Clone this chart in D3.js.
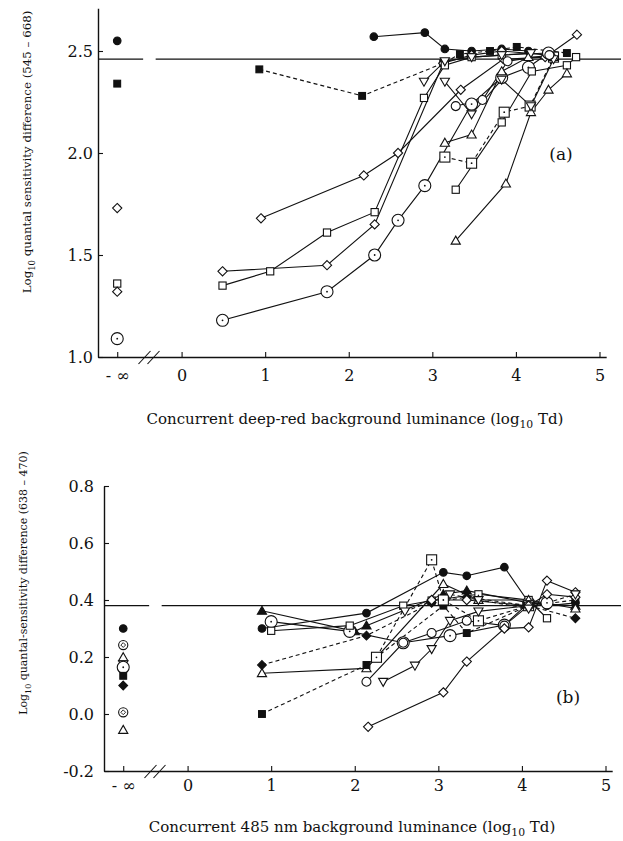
<!DOCTYPE html>
<html><head><meta charset="utf-8">
<script src="https://cdn.jsdelivr.net/npm/d3@7"></script>
<style>
body{margin:0;background:#fff}
svg{display:block}
text{font-family:"DejaVu Serif",serif;fill:#111}
</style>
</head><body>
<svg id="chart" width="623" height="841"></svg>
<script>
// ---------- data: log10 Td of the background vs. sensitivity difference ----------
const xTickValues = [0, 1, 2, 3, 4, 5];
const negInfinityAt = -0.77;          // where the "- ∞" (no background) column sits
const aYTickValues = [1.0, 1.5, 2.0, 2.5];
const bYTickValues = [-0.2, 0.0, 0.2, 0.4, 0.6, 0.8];
const aPlateau = 2.46;
const bPlateau = 0.38;

// (a) deep-red backgrounds, 545 vs 668 nm
const aFilledCircles = [[2.30,2.57],[2.91,2.59],[3.15,2.51],[3.47,2.50],[3.83,2.51],[4.15,2.50]];
const aFilledSquares = [[0.93,2.41],[2.16,2.28],[3.13,2.44],[3.33,2.485],[3.69,2.50],[4.01,2.52],[4.61,2.49]];
const aDiamondsUpper = [[0.95,1.68],[2.18,1.89],[2.59,2.00],[3.34,2.31],[3.85,2.46],[4.35,2.47],[4.73,2.58]];
const aDiamondsLower = [[0.49,1.42],[1.74,1.45],[2.31,1.65],[3.13,2.44],[3.47,2.48],[3.83,2.50],[4.39,2.48]];
const aSquaresLong   = [[0.49,1.35],[1.06,1.42],[1.74,1.61],[2.31,1.71],[2.90,2.27],[3.15,2.43],[3.47,2.47],[3.83,2.48],[4.39,2.49]];
const aDottedCircles = [[0.49,1.18],[1.74,1.32],[2.31,1.50],[2.59,1.67],[2.91,1.84],[3.47,2.24],[3.83,2.37],[4.15,2.42],[4.39,2.49]];
const aDottedSquares = [[3.15,1.98],[3.47,1.95],[3.86,2.20],[4.17,2.23],[4.45,2.47]];
const aSquaresShort  = [[3.28,1.82],[3.83,2.15],[4.19,2.40],[4.61,2.43],[4.72,2.47]];
const aTrianglesLate = [[3.28,1.57],[3.88,1.85],[4.18,2.20],[4.39,2.31],[4.61,2.39]];
const aTrianglesMid  = [[3.15,2.05],[3.47,2.09],[3.83,2.40],[4.15,2.47],[4.45,2.47]];
const aInvTriUpper   = [[2.90,2.35],[3.15,2.45],[3.47,2.47],[3.83,2.48],[4.18,2.49]];
const aInvTriLower   = [[3.15,2.35],[3.47,2.19],[3.83,2.36],[4.18,2.23],[4.45,2.46]];
const aOpenCircles   = [[3.28,2.23],[3.60,2.26],[3.90,2.45],[4.40,2.48]];
const aNoBackground  = [2.55, 2.34, 1.73, 1.36, 1.32, 1.09];

// (b) 485 nm backgrounds, 638 vs 470 nm
const bFilledCircles = [[0.89,0.30],[2.14,0.354],[3.06,0.497],[3.34,0.485],[3.79,0.515],[4.08,0.392],[4.30,0.38],[4.64,0.39]];
const bFilledTriangles = [[0.89,0.362],[2.00,0.29],[2.14,0.31],[3.06,0.42],[3.34,0.433],[4.08,0.39],[4.64,0.38]];
const bDottedCircles = [[1.00,0.324],[1.94,0.29],[2.58,0.25],[3.14,0.275],[3.79,0.312],[4.08,0.39],[4.30,0.39]];
const bOpenSquares   = [[1.00,0.292],[1.94,0.31],[2.58,0.38],[2.92,0.398],[3.48,0.42],[4.08,0.40],[4.30,0.336]];
const bFilledDiamonds = [[0.89,0.172],[2.14,0.275],[2.92,0.39],[3.34,0.41],[4.08,0.38],[4.64,0.336]];
const bOpenTriangles = [[0.89,0.143],[2.14,0.16],[3.06,0.456],[3.48,0.40],[4.08,0.40],[4.64,0.37]];
const bFilledSquares = [[0.89,0.00],[2.14,0.172],[3.06,0.38],[3.34,0.284],[4.08,0.38],[4.64,0.40]];
const bDottedSquares = [[2.26,0.199],[2.92,0.541],[3.06,0.40],[3.48,0.327],[4.08,0.38]];
const bOpenCircles   = [[2.14,0.113],[2.58,0.25],[2.92,0.284],[3.34,0.327],[3.79,0.31],[4.08,0.38]];
const bInvTriangles  = [[2.34,0.113],[2.72,0.17],[2.92,0.228],[3.14,0.327],[3.48,0.36],[4.08,0.38]];
const bDiamondsLower = [[2.16,-0.045],[3.06,0.076],[3.34,0.184],[3.79,0.30],[4.08,0.304],[4.30,0.468],[4.64,0.427]];
const bDiamondsUpper = [[2.92,0.40],[3.34,0.40],[4.08,0.38],[4.30,0.42],[4.64,0.41]];
const bInvTriDashed  = [[2.60,0.36],[3.14,0.42],[3.48,0.40],[4.08,0.37],[4.64,0.42]];
const bNoBackground  = [0.30, 0.242, 0.199, 0.175, 0.164, 0.134, 0.10, 0.006, -0.056];

// ---------- series tables ----------
const panelASeries = [
  {pts: aFilledCircles, mark: "fc"}, {pts: aFilledSquares, mark: "fs", dash: true},
  {pts: aDiamondsUpper, mark: "di"}, {pts: aDiamondsLower, mark: "di"},
  {pts: aSquaresLong, mark: "sq"}, {pts: aDottedCircles, mark: "cd"},
  {pts: aDottedSquares, mark: "sd", dash: true}, {pts: aSquaresShort, mark: "sq"},
  {pts: aTrianglesLate, mark: "tu"}, {pts: aTrianglesMid, mark: "tu"},
  {pts: aInvTriUpper, mark: "td"}, {pts: aInvTriLower, mark: "td"},
  {pts: aOpenCircles, mark: "oc"}
];
const aNoBackgroundMarks = ["fc", "fs", "di", "sq", "di", "cd"];

const panelBSeries = [
  {pts: bFilledCircles, mark: "fc"}, {pts: bFilledTriangles, mark: "ft"},
  {pts: bDottedCircles, mark: "cd"}, {pts: bOpenSquares, mark: "sq"},
  {pts: bFilledDiamonds, mark: "fd", dash: true}, {pts: bOpenTriangles, mark: "tu"},
  {pts: bFilledSquares, mark: "fs", dash: true}, {pts: bDottedSquares, mark: "sd", dash: true},
  {pts: bOpenCircles, mark: "oc"}, {pts: bInvTriangles, mark: "td"},
  {pts: bDiamondsLower, mark: "di"}, {pts: bDiamondsUpper, mark: "di"},
  {pts: bInvTriDashed, mark: "td", dash: true}
];
const bNoBackgroundMarks = ["fc", "cdi", "tu", "td", "cd", "fs", "fd", "cdi", "tu"];

// ---------- drawing ----------
const svg = d3.select("#chart");
svg.append("rect").attr("width", 623).attr("height", 841).attr("fill", "#fff");

function drawMarker(g, kind, cx, cy) {
  const s = g.append("g").attr("transform", `translate(${cx},${cy})`)
    .attr("stroke", "#111").attr("stroke-width", 1.1).attr("fill", "#fff");
  switch (kind) {
    case "fc": s.append("circle").attr("r", 3.8).attr("fill", "#111"); break;
    case "oc": s.append("circle").attr("r", 4.5); break;
    case "cd": s.append("circle").attr("r", 6);
               s.append("circle").attr("r", 0.9).attr("fill", "#111").attr("stroke", "none"); break;
    case "cdi": s.append("circle").attr("r", 4.6);
               s.append("path").attr("d", "M0,-2.4L2.4,0L0,2.4L-2.4,0Z").attr("stroke-width", 0.9); break;
    case "sq": s.append("rect").attr("x", -3.6).attr("y", -3.6).attr("width", 7.2).attr("height", 7.2); break;
    case "fs": s.append("rect").attr("x", -3.4).attr("y", -3.4).attr("width", 6.8).attr("height", 6.8).attr("fill", "#111"); break;
    case "sd": s.append("rect").attr("x", -5).attr("y", -5).attr("width", 10).attr("height", 10);
               s.append("circle").attr("r", 0.9).attr("fill", "#111").attr("stroke", "none"); break;
    case "di": s.append("path").attr("d", "M0,-4.6L4.6,0L0,4.6L-4.6,0Z"); break;
    case "fd": s.append("path").attr("d", "M0,-4.4L4.4,0L0,4.4L-4.4,0Z").attr("fill", "#111"); break;
    case "tu": s.append("path").attr("d", "M0,-4.6L4.6,3.4L-4.6,3.4Z"); break;
    case "ft": s.append("path").attr("d", "M0,-4.6L4.6,3.4L-4.6,3.4Z").attr("fill", "#111"); break;
    case "td": s.append("path").attr("d", "M0,4.6L4.6,-3.4L-4.6,-3.4Z"); break;
  }
}

function drawPanel(cfg) {
  const {x, y, series, noBg, noBgMarks, plateau, yTicks, yPad, xPad} = cfg;
  const g = svg.append("g");
  const x0 = x.range()[0], y0 = y.range()[0];

  // axes, ticks pointing inward
  const ya = g.append("g").attr("transform", `translate(${x0},0)`)
    .call(d3.axisLeft(y).tickValues(yTicks).tickSizeInner(-5).tickSizeOuter(0)
      .tickPadding(yPad).tickFormat(d => d.toFixed(1)));
  const xa = g.append("g").attr("transform", `translate(0,${y0})`)
    .call(d3.axisBottom(x).tickValues([negInfinityAt, ...xTickValues]).tickSizeInner(-5)
      .tickSizeOuter(0).tickPadding(xPad).tickFormat(d => d === negInfinityAt ? "- \u221e" : d));
  [ya, xa].forEach(a => {
    a.select(".domain").attr("stroke", "#111").attr("stroke-width", 1.4);
    a.selectAll(".tick line").attr("stroke", "#111").attr("stroke-width", 1.1);
    a.selectAll(".tick text").attr("font-family", "DejaVu Serif").attr("font-size", 16).attr("fill", "#111");
  });

  // axis break marks between -∞ and 0
  const bx = x(-0.39);
  [-4.5, 4.5].forEach(o => g.append("line")
    .attr("x1", bx + o - 6).attr("y1", y0 + 7).attr("x2", bx + o + 6).attr("y2", y0 - 6)
    .attr("stroke", "#111").attr("stroke-width", 1.1));

  // plateau reference line, broken at the axis break
  const py = y(plateau);
  g.append("line").attr("x1", x0).attr("x2", x(-0.46)).attr("y1", py).attr("y2", py)
    .attr("stroke", "#111").attr("stroke-width", 1.2);
  g.append("line").attr("x1", x(-0.31)).attr("x2", 621).attr("y1", py).attr("y2", py)
    .attr("stroke", "#111").attr("stroke-width", 1.2);

  // connecting lines
  const line = d3.line().x(d => x(d[0])).y(d => y(d[1]));
  series.forEach(s => g.append("path").attr("d", line(s.pts)).attr("fill", "none")
    .attr("stroke", "#111").attr("stroke-width", 1.1)
    .attr("stroke-dasharray", s.dash ? "4,3" : null));

  // markers
  series.forEach(s => s.pts.forEach(p => drawMarker(g, s.mark, x(p[0]), y(p[1]))));
  noBg.forEach((v, i) => drawMarker(g, noBgMarks[i], x(negInfinityAt), y(v)));
  return g;
}

// panel (a)
const xA = d3.scaleLinear().domain([-1.0, 5.08]).range([98, 182 + 5.08 * 83.5]);
const yA = d3.scaleLinear().domain([1.0, 2.71]).range([357, 357 - 1.71 * 204]);
const gA = drawPanel({x: xA, y: yA, series: panelASeries, noBg: aNoBackground,
  noBgMarks: aNoBackgroundMarks, plateau: aPlateau, yTicks: aYTickValues, yPad: 5, xPad: 13});
gA.append("text").attr("x", 561).attr("y", 160).attr("text-anchor", "middle")
  .attr("font-size", 17).text("(a)");

// panel (b)
const xB = d3.scaleLinear().domain([-1.0, 5.08]).range([104, 187.5 + 5.08 * 83.6]);
const yB = d3.scaleLinear().domain([-0.2, 0.8]).range([771, 486]);
const gB = drawPanel({x: xB, y: yB, series: panelBSeries, noBg: bNoBackground,
  noBgMarks: bNoBackgroundMarks, plateau: bPlateau, yTicks: bYTickValues, yPad: 10, xPad: 9});
gB.append("text").attr("x", 568).attr("y", 703).attr("text-anchor", "middle")
  .attr("font-size", 17).text("(b)");

// axis titles with subscripted 10
function subTitle(sel, before, after) {
  sel.append("tspan").text(before);
  sel.append("tspan").attr("dy", 4).attr("font-size", "0.72em").text("10");
  sel.append("tspan").attr("dy", -4).text(after);
  return sel;
}
// shrink a title's font until it fits the given length
function fitLength(sel, maxLen) {
  let fs = parseFloat(sel.attr("font-size"));
  while (sel.node().getComputedTextLength() > maxLen && fs > 8) {
    fs -= 0.2;
    sel.attr("font-size", fs);
  }
  return sel;
}
subTitle(svg.append("text").attr("x", 355).attr("y", 424).attr("text-anchor", "middle")
  .attr("font-size", 15), "Concurrent deep-red background luminance (log", " Td)");
subTitle(svg.append("text").attr("x", 352).attr("y", 832).attr("text-anchor", "middle")
  .attr("font-size", 15), "Concurrent 485 nm background luminance (log", " Td)");
fitLength(subTitle(svg.append("text").attr("transform", "translate(31,152) rotate(-90)")
  .attr("text-anchor", "middle").attr("font-size", 13),
  "Log", " quantal sensitivity difference (545 \u2013 668)"), 284);
fitLength(subTitle(svg.append("text").attr("transform", "translate(27,583) rotate(-90)")
  .attr("text-anchor", "middle").attr("font-size", 13),
  "Log", " quantal-sensitivity difference (638 \u2013 470)"), 266);
</script>
</body></html>
